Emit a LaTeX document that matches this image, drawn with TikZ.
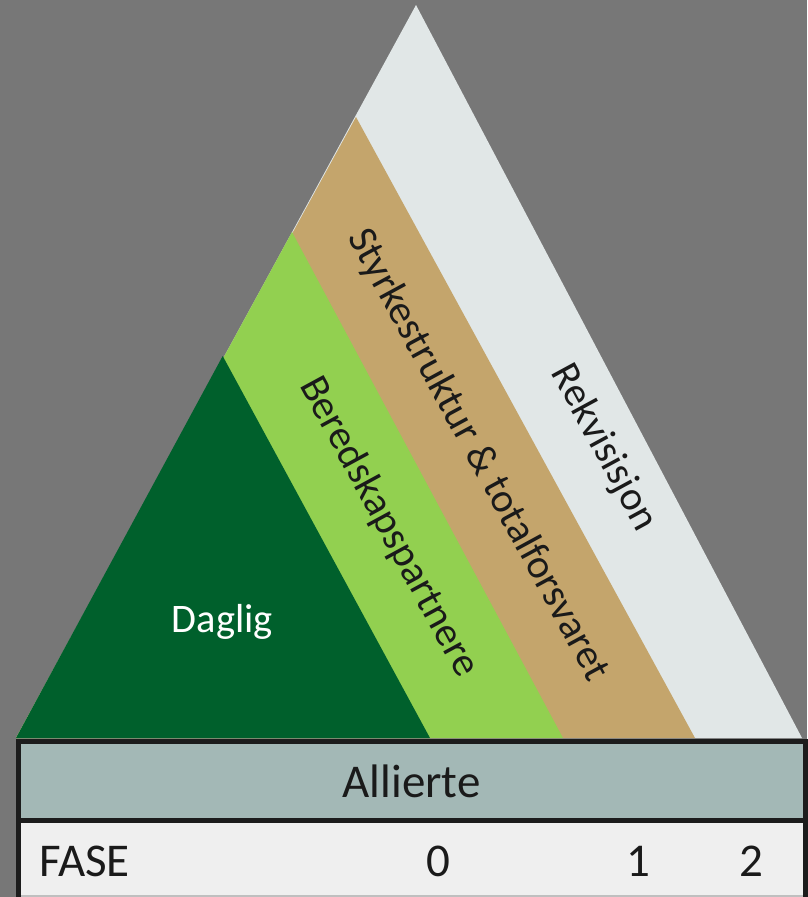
\documentclass[tikz,border=0pt]{standalone}
\usepackage{fontspec}
\setmainfont{Carlito}
\definecolor{bggray}{HTML}{777777}
\definecolor{rekvcol}{HTML}{E1E7E7}
\definecolor{tancol}{HTML}{C4A56C}
\definecolor{lgreen}{HTML}{92D050}
\definecolor{dgreen}{HTML}{00602C}
\definecolor{rowone}{HTML}{A3B8B6}
\definecolor{rowtwo}{HTML}{EFEFEF}
\definecolor{borderc}{HTML}{1C1C1C}
\definecolor{textblack}{HTML}{1A1A1A}
\begin{document}
\begin{tikzpicture}[x=1pt,y=-1pt,
  bandtext/.style={font=\fontsize{41}{49}\selectfont, text=textblack, rotate=-61.5, inner sep=0pt},
  tabletext/.style={font=\fontsize{47}{56}\selectfont, text=textblack, inner sep=0pt},
  tableline/.style={draw=borderc, line width=5pt}]
\fill[bggray] (0,0) rectangle (807,897);
\useasboundingbox (0,0) rectangle (807,897);
% triangle geometry
\coordinate (apex) at (416,5);
\coordinate (bl) at (16,738);
\coordinate (br) at (802,738);
\coordinate (t1) at (356,117);
\coordinate (b1) at (695,738);
\coordinate (t2) at (292,232);
\coordinate (b2) at (563,738);
\coordinate (t3) at (222.7,356);
\coordinate (b3) at (430,738);
\fill[rekvcol] (apex) -- (br) -- (bl) -- cycle;
\fill[tancol] (t1) -- (b1) -- (bl) -- cycle;
\fill[lgreen] (t2) -- (b2) -- (bl) -- cycle;
\fill[dgreen] (t3) -- (b3) -- (bl) -- cycle;
% labels in the bands
\node[font=\fontsize{40.5}{48}\selectfont, text=white, inner sep=0pt, anchor=base] (daglig) at (222.5,632) {Daglig};
\node[bandtext] (bered) at (388.5,527) {Beredskapspartnere};
\node[bandtext] (styrke) at (478,455) {Styrkestruktur \& totalforsvaret};
\node[bandtext] (rekv) at (604,448) {Rekvisisjon};
% table
\fill[rowone] (18,741) rectangle (805,820);
\fill[rowtwo] (18,820) rectangle (805,897);
\draw[draw=black!25, line width=1.5pt] (18,896) -- (805,896);
\draw[tableline] (18,900) -- (18,741) -- (805,741) -- (805,900);
\draw[tableline] (18,820) -- (805,820);
\node[tabletext, anchor=base] (allierte) at (411.5,797) {Allierte};
\node[tabletext, anchor=base west] (fase) at (39,876) {FASE};
\node[tabletext, anchor=base] (f0) at (438,876) {0};
\node[tabletext, anchor=base] (f1) at (638,876) {1};
\node[tabletext, anchor=base] (f2) at (751,876) {2};
\end{tikzpicture}
\end{document}
